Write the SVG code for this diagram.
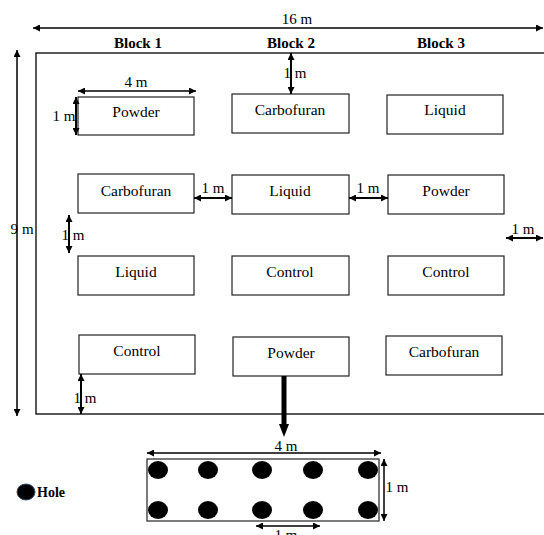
<svg xmlns="http://www.w3.org/2000/svg" width="544" height="535" viewBox="0 0 544 535">
<defs>
<marker id="ah" viewBox="0 0 10 10" refX="10" refY="5" markerWidth="7" markerHeight="7" markerUnits="userSpaceOnUse" orient="auto-start-reverse">
<path d="M0,0 L10,5 L0,10 z" fill="#000"/>
</marker>
<marker id="ahb" viewBox="0 0 10 10" refX="10" refY="5" markerWidth="4" markerHeight="4" orient="auto">
<path d="M0,0 L10,5 L0,10 z" fill="#000"/>
</marker>
<style>
.box{fill:#fff;stroke:#222;stroke-width:1.2}
.lbl{font-family:"Liberation Serif","Times New Roman",serif;font-size:15.5px;fill:#000;text-anchor:middle}
.dim{font-family:"Liberation Serif","Times New Roman",serif;font-size:15px;fill:#000}
.blk{font-family:"Liberation Serif","Times New Roman",serif;font-size:15px;font-weight:bold;fill:#000;text-anchor:middle}
.ar{stroke:#000;stroke-width:1.5;fill:none;marker-start:url(#ah);marker-end:url(#ah)}
.ar2{stroke:#000;stroke-width:2;fill:none;marker-start:url(#ah);marker-end:url(#ah)}
.hole{fill:#000}
</style>
</defs>
<rect width="544" height="535" fill="#fff"/>
<g id="field">
<rect x="36" y="53" width="510" height="361" fill="none" stroke="#000" stroke-width="1.3"/>
</g>
<g id="block-labels">
<text class="blk" x="138" y="48">Block 1</text>
<text class="blk" x="291" y="48">Block 2</text>
<text class="blk" x="441" y="48">Block 3</text>
</g>
<g id="b1-powder"><rect class="box" x="78" y="97" width="116" height="38"/><text class="lbl" x="136" y="117">Powder</text></g>
<g id="b2-carbofuran"><rect class="box" x="232" y="94" width="117" height="39"/><text class="lbl" x="290" y="115">Carbofuran</text></g>
<g id="b3-liquid"><rect class="box" x="387" y="95" width="116" height="39"/><text class="lbl" x="445" y="115">Liquid</text></g>
<g id="b1-carbofuran"><rect class="box" x="78" y="174" width="116" height="39"/><text class="lbl" x="136" y="196">Carbofuran</text></g>
<g id="b2-liquid"><rect class="box" x="232" y="175" width="117" height="39"/><text class="lbl" x="290" y="196">Liquid</text></g>
<g id="b3-powder"><rect class="box" x="388" y="175" width="116" height="39"/><text class="lbl" x="446" y="196">Powder</text></g>
<g id="b1-liquid"><rect class="box" x="78" y="256" width="116" height="39"/><text class="lbl" x="136" y="277">Liquid</text></g>
<g id="b2-control"><rect class="box" x="232" y="256" width="117" height="39"/><text class="lbl" x="290" y="277">Control</text></g>
<g id="b3-control"><rect class="box" x="388" y="256" width="116" height="39"/><text class="lbl" x="446" y="277">Control</text></g>
<g id="b1-control"><rect class="box" x="79" y="335" width="116" height="39"/><text class="lbl" x="137" y="356">Control</text></g>
<g id="b2-powder"><rect class="box" x="233" y="337" width="116" height="39"/><text class="lbl" x="291" y="358">Powder</text></g>
<g id="b3-carbofuran"><rect class="box" x="386" y="336" width="116" height="39"/><text class="lbl" x="444" y="357">Carbofuran</text></g>
<g id="plot">
<rect x="147" y="459" width="232" height="62" fill="#fff" stroke="#333" stroke-width="1.3"/>
<ellipse class="hole" cx="158" cy="470" rx="10" ry="9"/>
<ellipse class="hole" cx="208" cy="470" rx="10" ry="9"/>
<ellipse class="hole" cx="262" cy="470" rx="10" ry="9"/>
<ellipse class="hole" cx="313" cy="470" rx="10" ry="9"/>
<ellipse class="hole" cx="368" cy="470" rx="10" ry="9"/>
<ellipse class="hole" cx="158" cy="510" rx="10" ry="9"/>
<ellipse class="hole" cx="208" cy="510" rx="10" ry="9"/>
<ellipse class="hole" cx="262" cy="510" rx="10" ry="9"/>
<ellipse class="hole" cx="313" cy="510" rx="10" ry="9"/>
<ellipse class="hole" cx="368" cy="510" rx="10" ry="9"/>
</g>
<g id="legend">
<ellipse cx="26" cy="492" rx="9" ry="8" fill="#000" stroke="#2a4a6a" stroke-width="1"/>
<text x="37" y="497" font-family="Liberation Serif, Times New Roman, serif" font-size="14" font-weight="bold">Hole</text>
</g>
<g id="connectors">
<line class="ar" x1="33" y1="28" x2="543" y2="28"/>
<line class="ar" x1="17" y1="50" x2="17" y2="416"/>
<line class="ar" x1="78" y1="91" x2="196" y2="91"/>
<line class="ar2" x1="76" y1="97" x2="76" y2="135"/>
<line class="ar2" x1="291" y1="53" x2="291" y2="94"/>
<line class="ar2" x1="194" y1="198" x2="232" y2="198"/>
<line class="ar2" x1="349" y1="198" x2="388" y2="198"/>
<line class="ar2" x1="506" y1="238" x2="543" y2="238"/>
<line class="ar2" x1="69" y1="215" x2="69" y2="253"/>
<line class="ar2" x1="81" y1="374" x2="81" y2="414"/>
<line x1="284" y1="376" x2="284" y2="426" stroke="#000" stroke-width="5"/>
<path d="M279,424 L289,424 L284,437 z" fill="#000"/>
<line class="ar" x1="147" y1="453" x2="381" y2="453"/>
<line class="ar" x1="384" y1="459" x2="384" y2="521"/>
<line class="ar" x1="256" y1="526" x2="320" y2="526"/>
</g>
<g id="dim-labels">
<text class="dim" x="297" y="24" text-anchor="middle">16 m</text>
<text class="dim" x="22" y="234" text-anchor="middle"><tspan>9</tspan><tspan dx="4">m</tspan></text>
<text class="dim" x="136" y="87" text-anchor="middle">4 m</text>
<text class="dim" x="64" y="121" text-anchor="middle">1 m</text>
<text class="dim" x="295" y="78" text-anchor="middle">1 m</text>
<text class="dim" x="213" y="193" text-anchor="middle">1 m</text>
<text class="dim" x="368" y="193" text-anchor="middle">1 m</text>
<text class="dim" x="523" y="234" text-anchor="middle">1 m</text>
<text class="dim" x="73" y="240" text-anchor="middle">1 m</text>
<text class="dim" x="85" y="403" text-anchor="middle">1 m</text>
<text class="dim" x="286" y="451" text-anchor="middle">4 m</text>
<text class="dim" x="397" y="492" text-anchor="middle">1 m</text>
<text class="dim" x="286" y="540" text-anchor="middle">1 m</text>
</g>
</svg>
